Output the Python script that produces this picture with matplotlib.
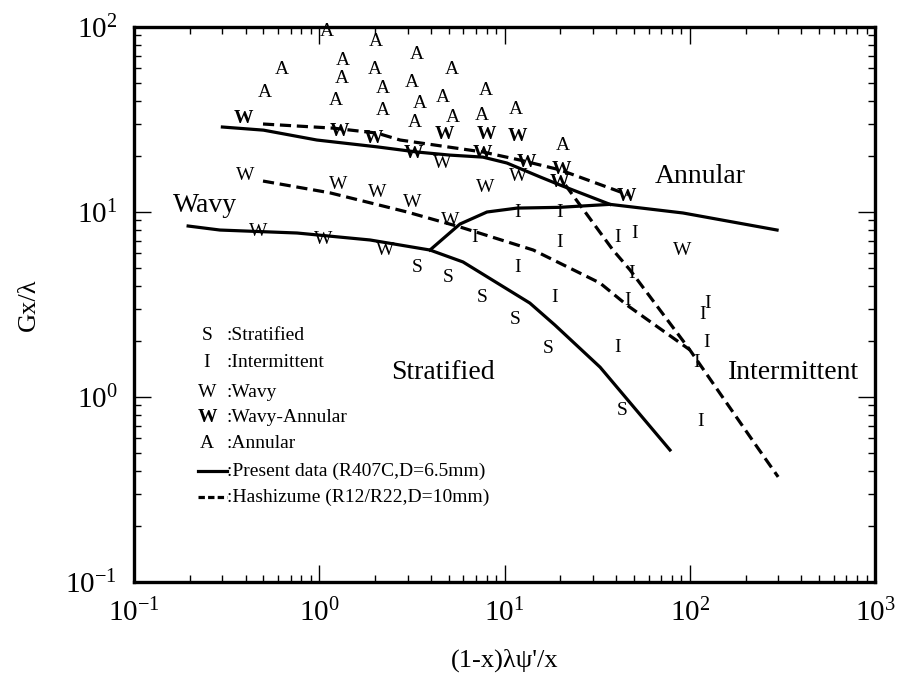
import matplotlib
matplotlib.use("Agg")
import matplotlib.pyplot as plt

plt.rcParams['font.family'] = ['Liberation Serif', 'DejaVu Serif']
plt.rcParams['mathtext.fontset'] = 'custom'
plt.rcParams['mathtext.rm'] = 'Liberation Serif'
plt.rcParams['mathtext.bf'] = 'Liberation Serif:bold'

# boundary lines, present data (R407C)
upper_x = [0.30, 0.50, 0.97, 2.05, 3.37, 5.08, 7.65, 10.3, 15.5, 19.9, 37.1]
upper_y = [28.8, 27.7, 24.5, 22.5, 21.1, 20.3, 19.8, 18.4, 15.5, 14.0, 11.0]
annular_x = [3.96, 5.75, 8.04, 11.7, 19.9, 37.1, 91.9, 296]
annular_y = [6.23, 8.61, 10.0, 10.5, 10.6, 11.0, 9.88, 7.99]
lower_x = [0.196, 0.291, 0.759, 1.88, 3.96, 5.97, 13.7, 18.7, 32.8, 78.2]
lower_y = [8.40, 7.99, 7.70, 7.06, 6.23, 5.37, 3.22, 2.45, 1.45, 0.517]

# boundary lines, Hashizume
hupper_x = [0.497, 1.19, 2.05, 2.73, 7.65, 12.1, 19.9, 46.4]
hupper_y = [29.9, 28.4, 26.7, 24.5, 21.1, 19.1, 16.9, 12.4]
hmid_x = [0.497, 1.14, 2.98, 5.75, 14.3, 32.8, 45.8, 100]
hmid_y = [14.7, 12.7, 10.0, 8.30, 6.23, 4.13, 3.14, 1.80]
hsteep_x = [21.3, 38.5, 47.6, 69.1, 100, 231, 300]
hsteep_y = [14.0, 6.23, 4.86, 2.95, 1.80, 0.537, 0.37]

# observed flow patterns
ann_x = [1.10, 2.02, 3.37, 5.21, 0.630, 0.510, 1.34, 1.33, 2.00, 3.17, 2.21,
         1.23, 4.66, 3.50, 2.21, 3.29, 7.95, 5.27, 7.56, 11.5, 20.7]
ann_y = [94.0, 83.0, 70.6, 58.6, 58.6, 44.0, 66.3, 52.4, 58.6, 50.4, 46.8,
         40.3, 41.8, 38.4, 35.2, 30.3, 45.1, 32.6, 33.4, 35.6, 23.0]
wa_x = [0.388, 1.29, 1.95, 3.21, 4.77, 8.04, 11.8, 7.65, 13.2, 20.4, 19.7, 45.8]
wa_y = [32.2, 27.1, 25.1, 20.6, 26.1, 26.1, 25.7, 20.6, 18.6, 16.9, 14.4, 12.1]
wavy_x = [4.60, 11.8, 7.85, 0.397, 1.26, 2.05, 3.17, 5.08, 0.467, 1.05, 2.26, 90.8]
wavy_y = [18.4, 15.5, 13.5, 15.8, 14.0, 12.8, 11.3, 9.05, 7.80, 7.06, 6.23, 6.23]
int_x = [11.7, 19.9, 6.93, 19.9, 41.0, 50.6, 48.8, 46.4, 125, 118, 124, 109,
         41.0, 114, 11.7, 18.7]
int_y = [10.0, 10.0, 7.24, 6.80, 7.24, 7.70, 4.68, 3.34, 3.22, 2.78, 1.96, 1.53,
         1.86, 0.733, 5.04, 3.47]
strat_x = [3.37, 4.95, 7.56, 11.4, 17.2, 43.1]
strat_y = [5.04, 4.45, 3.43, 2.61, 1.84, 0.85]

# region names
regions = ["Wavy", "Annular", "Stratified", "Intermittent"]
region_x = [0.241, 114, 4.66, 365]
region_y = [10.9, 15.5, 1.35, 1.365]

x_ticks = [0.1, 1, 10, 100, 1000]
x_labels = [r'$\mathregular{10^{-1}}$', r'$\mathregular{10^{0}}$', r'$\mathregular{10^{1}}$',
            r'$\mathregular{10^{2}}$', r'$\mathregular{10^{3}}$']
y_ticks = [0.1, 1, 10, 100]
y_labels = [r'$\mathregular{10^{-1}}$', r'$\mathregular{10^{0}}$', r'$\mathregular{10^{1}}$',
            r'$\mathregular{10^{2}}$']

fig = plt.figure(figsize=(9.06, 6.87), dpi=100)
ax = fig.add_axes([0.1479, 0.1528, 0.8179, 0.8079])
ax.set_xscale('log')
ax.set_yscale('log')
ax.set_xlim(0.1, 1000)
ax.set_ylim(0.1, 100)

lw = 2.3
ax.plot(upper_x, upper_y, 'k-', lw=lw)
ax.plot(annular_x, annular_y, 'k-', lw=lw)
ax.plot(lower_x, lower_y, 'k-', lw=lw)
dash = (3.5, 1.8)
for hx, hy in [(hupper_x, hupper_y), (hmid_x, hmid_y), (hsteep_x, hsteep_y)]:
    ax.plot(hx, hy, 'k--', lw=lw, dashes=dash)

fs = 14
for letter, xs, ys, wt in [("A", ann_x, ann_y, 'normal'), ("W", wa_x, wa_y, 'bold'),
                           ("W", wavy_x, wavy_y, 'normal'), ("I", int_x, int_y, 'normal'),
                           ("S", strat_x, strat_y, 'normal')]:
    for x, y in zip(xs, ys):
        ax.text(x, y, letter, fontsize=fs, fontweight=wt, ha='center', va='center')

for name, x, y in zip(regions, region_x, region_y):
    ax.text(x, y, name, fontsize=20, ha='center', va='center')

# legend drawn by hand, as in the figure
leg_letters = ["S", "I", "W", "W", "A"]
leg_weights = ['normal', 'normal', 'normal', 'bold', 'normal']
leg_text = [":Stratified", ":Intermittent", ":Wavy", ":Wavy-Annular", ":Annular",
            ":Present data (R407C,D=6.5mm)", ":Hashizume (R12/R22,D=10mm)"]
leg_y = [0.445, 0.396, 0.342, 0.297, 0.250, 0.200, 0.153]
for i, t in enumerate(leg_text):
    if i < 5:
        ax.text(0.0985, leg_y[i], leg_letters[i], fontsize=fs, fontweight=leg_weights[i],
                ha='center', va='center', transform=ax.transAxes)
    elif i == 5:
        ax.plot([0.0864, 0.1255], [leg_y[i]] * 2, 'k-', lw=lw, transform=ax.transAxes)
    else:
        ax.plot([0.0864, 0.1255], [leg_y[i]] * 2, 'k--', lw=lw, dashes=(2, 1),
                transform=ax.transAxes)
    ax.text(0.1255, leg_y[i], t, fontsize=14, ha='left', va='center', transform=ax.transAxes)

ax.set_xticks(x_ticks)
ax.set_xticklabels(x_labels)
ax.set_yticks(y_ticks)
ax.set_yticklabels(y_labels)
ax.tick_params(which='both', direction='in', top=True, right=True, labelsize=21)
ax.tick_params(which='major', length=12, width=1.0, pad=12)
ax.tick_params(which='minor', length=5, width=1.0)
for s in ax.spines.values():
    s.set_linewidth(2.4)

ax.set_xlabel("(1-x)λψ'/x", fontsize=19)
ax.set_ylabel("Gx/λ", fontsize=19)
ax.xaxis.set_label_coords(0.5, -0.12)
ax.yaxis.set_label_coords(-0.127, 0.5)

plt.savefig("out.png", dpi=100)
